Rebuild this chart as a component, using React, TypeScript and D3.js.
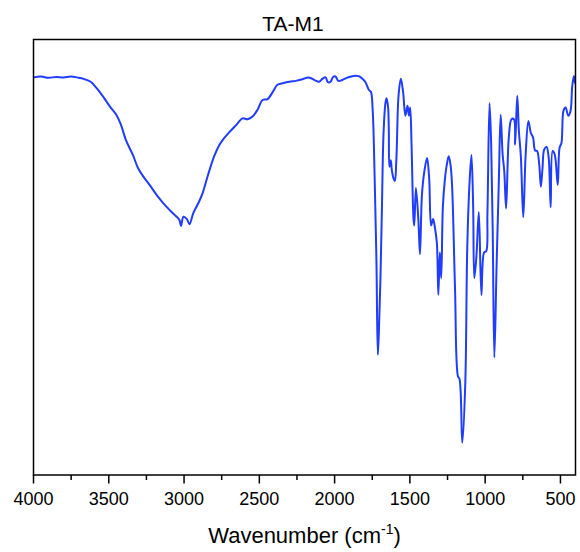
import { useEffect, useRef } from 'react';
import * as d3 from 'd3';

// FTIR spectrum of TA-M1
const wavenumbers = [
  4000, 3950, 3900, 3850, 3800, 3750, 3700, 3671, 3620, 3582, 3540, 3492, 3450, 3420,
  3386, 3340, 3306, 3270, 3229, 3180, 3140, 3100, 3074, 3040, 3030, 3020, 3004, 2982,
  2964, 2938, 2900, 2876, 2840, 2801, 2770, 2744, 2702, 2650, 2612, 2578, 2545, 2510,
  2479, 2446, 2410, 2380, 2340, 2300, 2258, 2220, 2171, 2130, 2104, 2080, 2060, 2045,
  2027, 2010, 1994, 1975, 1950, 1920, 1890, 1861, 1840, 1819, 1795, 1772, 1759, 1747,
  1734, 1722, 1713, 1705, 1695, 1686, 1675, 1662, 1655, 1645, 1640, 1636, 1627, 1620,
  1610, 1600, 1590, 1575, 1560, 1545, 1530, 1516, 1506, 1498, 1489, 1476, 1471, 1460,
  1444, 1433, 1420, 1404, 1386, 1372, 1359, 1346, 1336, 1321, 1311, 1301, 1292, 1281,
  1268, 1255, 1242, 1230, 1220, 1200, 1181, 1170, 1152, 1132, 1119, 1103, 1091, 1080,
  1072, 1058, 1042, 1025, 1007, 993, 985, 971, 960, 950, 939, 924, 909, 897,
  884, 873, 861, 843, 825, 809, 801, 787, 776, 763, 747, 731, 713, 697,
  682, 668, 655, 641, 630, 619, 608, 592, 578, 565, 552, 538, 518, 506,
  493, 480, 466, 448, 433, 422, 411, 402, 400,
];

const transmittance = [
  91.3, 91.5, 91.2, 91.4, 91.3, 91.5, 91.2, 91.0, 90.3, 88.9, 87.0, 84.6, 82.7, 80.5,
  76.9, 73.5, 70.5, 68.5, 66.6, 64.2, 62.5, 61.0, 60.1, 59.0, 58.5, 57.2, 59.3, 58.8,
  57.6, 60.2, 62.8, 64.8, 69.0, 73.1, 75.5, 76.9, 78.6, 80.5, 81.9, 81.7, 82.3, 84.0,
  86.1, 86.3, 88.0, 89.6, 90.0, 90.3, 90.5, 90.8, 91.3, 90.6, 90.3, 91.0, 91.3, 90.2,
  90.3, 91.4, 91.5, 90.5, 90.7, 91.2, 91.5, 91.7, 91.6, 91.1, 90.2, 88.4, 88.0, 83.6,
  68.2, 48.7, 27.6, 34.0, 46.0, 60.8, 78.5, 85.5, 86.5, 84.5, 79.2, 70.8, 72.3, 70.0,
  68.2, 67.5, 72.3, 87.3, 91.0, 87.9, 82.5, 84.8, 82.5, 84.4, 75.9, 58.8, 57.3, 65.9,
  58.8, 50.7, 64.3, 69.7, 72.8, 68.2, 57.3, 58.8, 57.3, 53.4, 41.4, 51.1, 45.2, 61.5,
  67.7, 71.2, 73.2, 71.2, 66.6, 42.5, 22.7, 22.0, 7.4, 21.2, 52.2, 67.7, 73.5, 62.0,
  45.2, 50.3, 60.4, 41.3, 51.1, 51.4, 60.0, 85.4, 75.9, 56.5, 27.0, 48.3, 67.7, 82.7,
  73.6, 69.7, 61.2, 77.5, 81.7, 81.7, 75.9, 87.1, 79.0, 73.2, 59.2, 73.6, 81.3, 78.6,
  77.5, 74.5, 74.4, 71.3, 66.2, 70.5, 74.7, 75.3, 72.8, 61.5, 74.4, 73.6, 66.6, 75.1,
  76.3, 83.6, 84.4, 82.5, 83.6, 89.1, 91.6, 89.9, 91.0,
];

const majorTicks = [4000, 3500, 3000, 2500, 2000, 1500, 1000, 500];
const minorTicks = [3750, 3250, 2750, 2250, 1750, 1250, 750];

const chartTitle = 'TA-M1';

export default function App() {
  const ref = useRef<SVGSVGElement | null>(null);

  const width = 580;
  const height = 552;
  const left = 33.5;
  const right = 575.5;
  const top = 39.5;
  const bottom = 475;
  const lineColor = '#1f3cff';
  const font = 'Arial, "Liberation Sans", sans-serif';

  useEffect(() => {
    const svg = d3.select(ref.current);
    svg.selectAll('*').remove();

    const x = d3.scaleLinear().domain([4000, 400]).range([left, right]);
    const y = d3.scaleLinear().domain([0, 100]).range([bottom, top]);

    const points: [number, number][] = wavenumbers.map((w, i) => [w, transmittance[i]]);

    svg.append('defs')
      .append('clipPath')
        .attr('id', 'plot-clip')
      .append('rect')
        .attr('x', left).attr('y', top)
        .attr('width', right - left).attr('height', bottom - top);

    // Spectrum line
    const line = d3.line<[number, number]>()
      .x(d => x(d[0]))
      .y(d => y(d[1]))
      .curve(d3.curveCatmullRom.alpha(0.5));

    svg.append('path')
      .datum(points)
      .attr('clip-path', 'url(#plot-clip)')
      .attr('fill', 'none')
      .attr('stroke', lineColor)
      .attr('stroke-width', 2)
      .attr('stroke-linejoin', 'round')
      .attr('d', line);

    // Frame
    svg.append('rect')
      .attr('x', left).attr('y', top)
      .attr('width', right - left).attr('height', bottom - top)
      .attr('fill', 'none')
      .attr('stroke', '#000')
      .attr('stroke-width', 1.5);

    // Bottom ticks
    svg.append('g')
      .selectAll('line.major')
      .data(majorTicks)
      .join('line')
        .attr('x1', d => x(d)).attr('x2', d => x(d))
        .attr('y1', bottom).attr('y2', bottom + 8.5)
        .attr('stroke', '#000')
        .attr('stroke-width', 1.5);

    svg.append('g')
      .selectAll('line.minor')
      .data(minorTicks)
      .join('line')
        .attr('x1', d => x(d)).attr('x2', d => x(d))
        .attr('y1', bottom).attr('y2', bottom + 5)
        .attr('stroke', '#000')
        .attr('stroke-width', 1.5);

    svg.append('g')
      .selectAll('text')
      .data(majorTicks)
      .join('text')
        .attr('x', d => x(d))
        .attr('y', 505)
        .attr('text-anchor', 'middle')
        .attr('font-family', font)
        .attr('font-size', 18)
        .attr('fill', '#000')
        .text(d => d);

    // Axis title
    const xt = svg.append('text')
      .attr('x', (left + right) / 2)
      .attr('y', 543)
      .attr('text-anchor', 'middle')
      .attr('font-family', font)
      .attr('font-size', 22)
      .attr('fill', '#000');
    xt.append('tspan').text('Wavenumber (cm');
    xt.append('tspan').attr('font-size', 14).attr('dy', -9).text('-1');
    xt.append('tspan').attr('dy', 9).text(')');

    // Chart title
    svg.append('text')
      .attr('x', 293)
      .attr('y', 31)
      .attr('text-anchor', 'middle')
      .attr('font-family', font)
      .attr('font-size', 21)
      .attr('fill', '#000')
      .text(chartTitle);
  }, []);

  return (
    <svg
      ref={ref}
      width={width}
      height={height}
      style={{ position: 'absolute', left: 0, top: 0, background: '#fff' }}
    />
  );
}
